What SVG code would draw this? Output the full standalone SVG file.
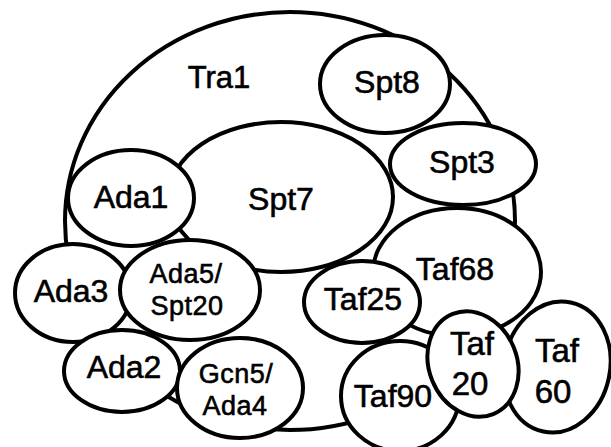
<svg xmlns="http://www.w3.org/2000/svg" width="611" height="447" viewBox="0 0 611 447">
<style>
  .n { fill: #ffffff; stroke: #000000; stroke-width: 4; }
  .t { font-family: "Liberation Sans", Arial, sans-serif; font-size: 32px; fill: #000000; stroke: #000000; stroke-width: 0.6; text-anchor: middle; }
  .s { font-size: 27px; letter-spacing: 0.5px; }
  .m { font-size: 33px; }
</style>
<rect width="611" height="447" fill="#ffffff"/>
<g id="Tra1">
  <ellipse class="n" cx="290" cy="221" rx="225" ry="209"/>
  <text class="t" x="219" y="88" style="font-size:31px">Tra1</text>
</g>
<g id="Spt7">
  <ellipse class="n" cx="281" cy="197" rx="112" ry="75"/>
  <text class="t" x="281" y="210">Spt7</text>
</g>
<g id="Spt8">
  <ellipse class="n" cx="385" cy="84" rx="65" ry="49"/>
  <text class="t" x="387" y="93">Spt8</text>
</g>
<g id="Spt3">
  <ellipse class="n" cx="463" cy="164" rx="73" ry="41"/>
  <text class="t" x="462" y="173">Spt3</text>
</g>
<g id="Ada1">
  <ellipse class="n" cx="131" cy="198" rx="63" ry="48"/>
  <text class="t" x="131" y="208">Ada1</text>
</g>
<g id="Ada3">
  <ellipse class="n" cx="73" cy="293" rx="58" ry="49"/>
  <text class="t" x="71" y="302">Ada3</text>
</g>
<g id="Ada5">
  <ellipse class="n" cx="190" cy="290" rx="70" ry="50"/>
  <text class="t s" x="186" y="283">Ada5/</text>
  <text class="t s" x="187" y="315">Spt20</text>
</g>
<g id="Ada2">
  <ellipse class="n" cx="122" cy="371" rx="58" ry="41"/>
  <text class="t" x="124" y="378">Ada2</text>
</g>
<g id="Gcn5">
  <ellipse class="n" cx="240" cy="388" rx="63" ry="50"/>
  <text class="t s" x="236" y="383">Gcn5/</text>
  <text class="t s" x="235" y="415">Ada4</text>
</g>
<g id="Taf68">
  <ellipse class="n" cx="457" cy="272" rx="84" ry="64"/>
  <text class="t" x="455" y="280">Taf68</text>
</g>
<g id="Taf90">
  <ellipse class="n" cx="400" cy="396" rx="59" ry="55"/>
  <text class="t" x="393" y="407">Taf90</text>
</g>
<g id="Taf25">
  <ellipse class="n" cx="362" cy="302" rx="58" ry="41"/>
  <text class="t" x="363" y="310">Taf25</text>
</g>
<g id="Taf60">
  <ellipse class="n" cx="557" cy="367" rx="53" ry="66" transform="rotate(12 557 367)"/>
  <text class="t m" x="557" y="362">Taf</text>
  <text class="t m" x="553" y="403">60</text>
</g>
<g id="Taf20">
  <ellipse class="n" cx="473" cy="364" rx="54" ry="44" transform="rotate(68 473 364)"/>
  <text class="t m" x="472" y="355">Taf</text>
  <text class="t m" x="470" y="395">20</text>
</g>
<g id="connectors"></g>
</svg>
